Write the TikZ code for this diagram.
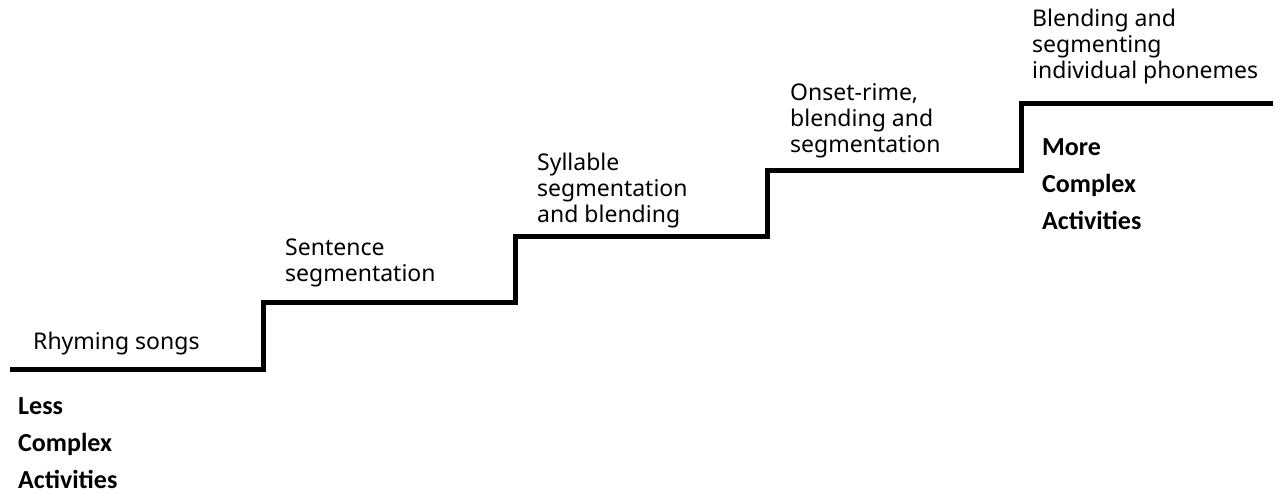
\documentclass[tikz,border=0pt]{standalone}
\usepackage{fontspec}
\setmainfont{Noto Sans}
\newfontfamily\boldfam{Carlito}
\begin{document}
\begin{tikzpicture}[x=1pt,y=-1pt,
  steptext/.style={anchor=base west,align=left,font=\fontsize{23}{26}\selectfont,inner sep=0pt},
  sidetext/.style={anchor=base west,align=left,font=\boldfam\bfseries\fontsize{26}{37}\selectfont,inner sep=0pt},
  stair/.style={line width=5pt,line join=miter}]
\useasboundingbox (0,0) rectangle (1276,493);
\coordinate (s0) at (10,369);
\coordinate (s1) at (263,369);
\coordinate (s2) at (263,302);
\coordinate (s3) at (515,302);
\coordinate (s4) at (515,236);
\coordinate (s5) at (767,236);
\coordinate (s6) at (767,170);
\coordinate (s7) at (1021,170);
\coordinate (s8) at (1021,103);
\coordinate (s9) at (1273,103);
\draw[stair] (s0) -- (s1) -- (s2) -- (s3) -- (s4) -- (s5) -- (s6) -- (s7) -- (s8) -- (s9);
\node[steptext] (t1) at (33,349) {Rhyming songs};
\node[steptext] (t2) at (285,281) {Sentence\\segmentation};
\node[steptext] (t3) at (537,222) {Syllable\\segmentation\\and blending};
\node[steptext] (t4) at (790,152) {Onset-rime,\\blending and\\segmentation};
\node[steptext] (t5) at (1032,78) {Blending and\\segmenting\\individual phonemes};
\node[sidetext] (less) at (18,488) {Less\\Complex\\Activities};
\node[sidetext] (more) at (1042,229) {More\\Complex\\Activities};
\end{tikzpicture}
\end{document}
